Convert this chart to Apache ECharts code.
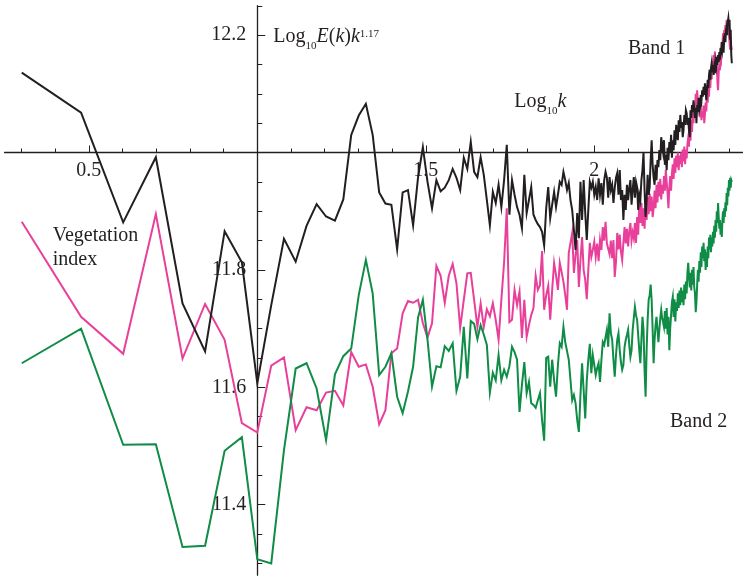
<!DOCTYPE html>
<html>
<head>
<meta charset="utf-8">
<script src="https://cdn.jsdelivr.net/npm/echarts@6/dist/echarts.min.js"></script>
<style>
  html, body { margin: 0; padding: 0; background: #ffffff; }
  #chart { width: 743px; height: 578px; }
</style>
</head>
<body>
<div id="chart"></div>
<script>
// Wavenumbers k = 2 ... 256; the abscissa is log10 k.
const kFirst = 2, kLast = 256;
const wavenumbers = [];
for (let k = kFirst; k <= kLast; k++) wavenumbers.push(k);

// log10 E(k) k^1.17 for each wavenumber (k = 2 ... 256)
const band1 = [
  12.136, 12.068, 11.881, 11.992, 11.743, 11.661, 11.866, 11.813, 11.607,
  11.740, 11.853, 11.814, 11.875, 11.912, 11.891, 11.884, 11.920, 12.030, 12.063,
  12.083, 12.030, 11.932, 11.913, 11.911, 11.835, 11.932, 11.936, 11.876, 11.958,
  12.009, 11.950, 11.905, 11.953, 11.934, 11.940, 11.953, 11.972, 11.957, 11.936,
  11.991, 11.972, 12.018, 11.967, 11.958, 11.992, 11.962, 11.919, 11.876, 11.933,
  11.914, 11.945, 11.907, 11.953, 12.013, 11.894, 11.953, 11.928, 11.907, 11.894,
  11.871, 11.962, 11.897, 11.919, 11.941, 11.894, 11.885, 11.878, 11.873, 11.865,
  11.842, 11.905, 11.941, 11.888, 11.911, 11.933, 11.907, 11.928, 11.950, 11.945,
  11.967, 11.953, 11.936, 11.948, 11.919, 11.902, 11.868, 11.834, 11.897, 11.854,
  11.950, 11.885, 11.953, 11.897, 11.851, 11.902, 11.950, 11.940, 11.950, 11.928,
  11.941, 11.919, 11.956, 11.928, 11.948, 11.911, 11.953, 11.967, 11.957, 11.923,
  11.958, 11.936, 11.945, 11.914, 11.940, 11.957, 11.965, 11.928, 11.970, 11.919,
  11.936, 11.885, 11.928, 11.902, 11.945, 11.919, 11.940, 11.953, 11.911, 11.936,
  11.958, 11.923, 11.950, 11.941, 11.902, 11.928, 11.919, 11.953, 11.970, 12.000,
  11.936, 11.890, 11.919, 11.962, 11.928, 11.941, 11.987, 12.021, 11.979, 11.957,
  11.945, 11.979, 11.953, 11.987, 11.975, 12.004, 11.987, 12.026, 12.013, 12.001,
  12.021, 11.979, 11.996, 11.970, 12.008, 11.987, 12.018, 12.000, 12.030, 11.991,
  12.021, 12.004, 12.038, 12.013, 12.047, 12.033, 12.021, 12.055, 12.035, 12.064,
  12.042, 12.052, 12.026, 12.038, 12.064, 12.047, 12.072, 12.067, 12.047, 12.059,
  12.038, 12.026, 12.072, 12.059, 12.081, 12.069, 12.089, 12.072, 12.059, 12.076,
  12.050, 12.081, 12.069, 12.093, 12.072, 12.077, 12.098, 12.089, 12.106, 12.095,
  12.112, 12.098, 12.118, 12.103, 12.089, 12.106, 12.124, 12.110, 12.132, 12.141,
  12.124, 12.144, 12.152, 12.137, 12.149, 12.132, 12.144, 12.135, 12.154, 12.147,
  12.163, 12.149, 12.166, 12.154, 12.171, 12.158, 12.178, 12.166, 12.188, 12.175,
  12.183, 12.170, 12.195, 12.203, 12.188, 12.209, 12.214, 12.200, 12.222, 12.229,
  12.217, 12.226, 12.192, 12.209, 12.166, 12.152
];

const vegetationIndex = [
  11.882, 11.720, 11.657, 11.895, 11.649, 11.742, 11.681, 11.539, 11.523,
  11.637, 11.651, 11.527, 11.566, 11.561, 11.591, 11.594, 11.569, 11.660, 11.635,
  11.639, 11.601, 11.537, 11.561, 11.658, 11.666, 11.726, 11.747, 11.744, 11.749,
  11.709, 11.685, 11.709, 11.807, 11.790, 11.744, 11.790, 11.810, 11.777, 11.701,
  11.749, 11.794, 11.795, 11.749, 11.703, 11.743, 11.703, 11.733, 11.721, 11.743,
  11.715, 11.681, 11.749, 11.813, 11.905, 11.711, 11.715, 11.766, 11.740, 11.763,
  11.684, 11.749, 11.686, 11.706, 11.723, 11.735, 11.790, 11.766, 11.774, 11.832,
  11.732, 11.757, 11.773, 11.715, 11.766, 11.812, 11.791, 11.766, 11.812, 11.796,
  11.780, 11.757, 11.732, 11.829, 11.831, 11.863, 11.795, 11.825, 11.851, 11.771,
  11.817, 11.856, 11.800, 11.783, 11.750, 11.800, 11.846, 11.822, 11.834, 11.848,
  11.822, 11.845, 11.815, 11.851, 11.834, 11.873, 11.850, 11.882, 11.845, 11.842,
  11.827, 11.850, 11.820, 11.851, 11.788, 11.814, 11.863, 11.835, 11.860, 11.831,
  11.817, 11.846, 11.873, 11.845, 11.870, 11.840, 11.865, 11.880, 11.850, 11.864,
  11.854, 11.880, 11.846, 11.890, 11.860, 11.915, 11.880, 11.914, 11.875, 11.905,
  11.870, 11.910, 11.885, 11.925, 11.895, 11.930, 11.900, 11.925, 11.890, 11.905,
  11.935, 11.905, 11.945, 11.915, 11.950, 11.925, 11.955, 11.920, 11.945, 11.930,
  11.960, 11.935, 11.970, 11.950, 11.930, 11.905, 11.940, 11.960, 11.935, 11.965,
  11.980, 11.955, 11.990, 11.965, 11.995, 11.975, 12.000, 11.970, 11.995, 11.980,
  12.000, 11.975, 12.005, 11.985, 12.010, 11.980, 12.005, 11.990, 12.015, 12.025,
  12.010, 12.040, 12.020, 12.055, 12.035, 12.070, 12.050, 12.085, 12.065, 12.100,
  12.080, 12.106, 12.085, 12.070, 12.090, 12.060, 12.075, 12.055, 12.070, 12.060,
  12.080, 12.050, 12.065, 12.085, 12.070, 12.100, 12.085, 12.110, 12.095, 12.125,
  12.110, 12.140, 12.125, 12.155, 12.140, 12.166, 12.150, 12.172, 12.155, 12.140,
  12.150, 12.120, 12.106, 12.135, 12.150, 12.140, 12.166, 12.160, 12.188, 12.180,
  12.203, 12.190, 12.209, 12.200, 12.217, 12.205, 12.226, 12.210, 12.220, 12.205,
  12.200, 12.187, 12.175, 12.190, 12.180, 12.175
];

const band2 = [
  11.641, 11.700, 11.502, 11.503, 11.328, 11.330, 11.492, 11.515, 11.307,
  11.300, 11.493, 11.632, 11.641, 11.598, 11.510, 11.622, 11.653, 11.666, 11.757,
  11.817, 11.760, 11.621, 11.635, 11.658, 11.584, 11.556, 11.593, 11.635, 11.719,
  11.749, 11.681, 11.601, 11.636, 11.634, 11.670, 11.662, 11.675, 11.594, 11.618,
  11.703, 11.615, 11.713, 11.708, 11.682, 11.706, 11.690, 11.672, 11.591, 11.625,
  11.612, 11.655, 11.612, 11.630, 11.618, 11.636, 11.669, 11.660, 11.647, 11.558,
  11.604, 11.643, 11.590, 11.609, 11.573, 11.570, 11.565, 11.578, 11.590, 11.544,
  11.509, 11.650, 11.652, 11.601, 11.647, 11.612, 11.584, 11.638, 11.675, 11.669,
  11.703, 11.677, 11.675, 11.647, 11.612, 11.578, 11.587, 11.573, 11.544, 11.524,
  11.587, 11.641, 11.595, 11.547, 11.612, 11.647, 11.674, 11.624, 11.655, 11.638,
  11.621, 11.633, 11.641, 11.609, 11.647, 11.677, 11.672, 11.669, 11.698, 11.669,
  11.726, 11.692, 11.681, 11.647, 11.618, 11.655, 11.681, 11.692, 11.663, 11.643,
  11.630, 11.638, 11.669, 11.681, 11.689, 11.698, 11.672, 11.652, 11.663, 11.698,
  11.718, 11.737, 11.723, 11.715, 11.689, 11.663, 11.641, 11.681, 11.720, 11.698,
  11.629, 11.584, 11.663, 11.715, 11.749, 11.757, 11.775, 11.749, 11.698, 11.641,
  11.681, 11.706, 11.720, 11.698, 11.677, 11.698, 11.718, 11.732, 11.718, 11.711,
  11.703, 11.730, 11.700, 11.735, 11.690, 11.720, 11.663, 11.700, 11.723, 11.745,
  11.754, 11.720, 11.750, 11.712, 11.745, 11.730, 11.760, 11.735, 11.765, 11.740,
  11.770, 11.745, 11.765, 11.740, 11.775, 11.750, 11.780, 11.760, 11.795, 11.812,
  11.790, 11.770, 11.795, 11.765, 11.800, 11.775, 11.805, 11.770, 11.760, 11.728,
  11.745, 11.775, 11.800, 11.780, 11.815, 11.795, 11.830, 11.805, 11.840, 11.820,
  11.846, 11.815, 11.835, 11.800, 11.830, 11.805, 11.840, 11.820, 11.855, 11.835,
  11.860, 11.830, 11.855, 11.840, 11.865, 11.845, 11.875, 11.855, 11.885, 11.865,
  11.900, 11.880, 11.914, 11.890, 11.870, 11.885, 11.860, 11.880, 11.856, 11.885,
  11.900, 11.880, 11.905, 11.890, 11.915, 11.900, 11.931, 11.910, 11.940, 11.925,
  11.953, 11.935, 11.957, 11.940, 11.953, 11.950
];

// Tick labels
const xTickLabels = [0.5, 1.5, 2];
const yTickLabels = [11.4, 11.6, 11.8, 12.2];
const xMajorTicks = [0.5, 1.0, 1.5, 2.0];
const yMajorTicks = [11.4, 11.6, 11.8, 12.0, 12.2];

// Axis ranges; the axes cross at (1, 12)
const X_MIN = 0.25, X_MAX = 2.44, Y_MIN = 11.28, Y_MAX = 12.25;
const X_CROSS = 1, Y_CROSS = 12;

const INK = '#231f20';
const PINK = '#e8409a';
const GREEN = '#0f8c45';
const SERIF = '"Liberation Serif", "Times New Roman", serif';

const GRID = { left: 4.55, top: 5.75, width: 738, height: 569.4 };
const xAxisShift = -GRID.height * (Y_CROSS - Y_MIN) / (Y_MAX - Y_MIN);
const yAxisShift = -GRID.width * (X_CROSS - X_MIN) / (X_MAX - X_MIN);

const xMinorTicks = [];
for (let i = 3; i <= 24; i++) xMinorTicks.push(i / 10);
const yMinorTicks = [];
for (let i = 226; i <= 245; i++) yMinorTicks.push(i / 20);

function xAxis(ticks, tickLen, withLine, labels) {
  return {
    type: 'value', gridIndex: 0, min: X_MIN, max: X_MAX,
    position: 'bottom', offset: xAxisShift,
    axisLine: { show: withLine, onZero: false, lineStyle: { color: INK, width: 1.3 } },
    axisTick: { show: true, inside: true, length: tickLen, customValues: ticks,
                lineStyle: { color: INK, width: 1 } },
    axisLabel: labels ? {
      show: true, customValues: labels, margin: 8,
      fontFamily: SERIF, fontSize: 20, color: INK,
      formatter: v => String(Math.round(v * 10) / 10)
    } : { show: false },
    splitLine: { show: false }
  };
}
function yAxis(ticks, tickLen, withLine, labels) {
  return {
    type: 'value', gridIndex: 0, min: Y_MIN, max: Y_MAX,
    position: 'left', offset: yAxisShift,
    axisLine: { show: withLine, onZero: false, lineStyle: { color: INK, width: 1.3 } },
    axisTick: { show: true, inside: true, length: tickLen, customValues: ticks,
                lineStyle: { color: INK, width: 1 } },
    axisLabel: labels ? {
      show: true, customValues: labels, margin: 11,
      fontFamily: SERIF, fontSize: 20, color: INK,
      formatter: v => v.toFixed(1)
    } : { show: false },
    splitLine: { show: false }
  };
}

function lineSeries(name, values, color, z) {
  return {
    type: 'line', name, xAxisIndex: 0, yAxisIndex: 0,
    data: wavenumbers.map((k, i) => [Math.log10(k), values[i]]),
    symbol: 'none', showSymbol: false, z,
    lineStyle: { color, width: 2, join: 'miter' },
    emphasis: { disabled: true }, animation: false
  };
}

// Text runs with sub/superscripts laid out left to right
const measureCtx = document.createElement('canvas').getContext('2d');
function textWidth(t, size, italic) {
  measureCtx.font = (italic ? 'italic ' : '') + size + 'px ' + SERIF;
  return measureCtx.measureText(t).width;
}
function textRun(x, baseline, runs) {
  const out = [];
  let cx = x;
  runs.forEach(r => {
    const size = r.size || 20;
    out.push({
      type: 'text', silent: true,
      x: cx, y: baseline + (r.dy || 0) - 0.3375 * size,
      style: {
        text: r.t, fontFamily: SERIF, fontSize: size,
        fontStyle: r.italic ? 'italic' : 'normal',
        fill: INK, align: 'left', verticalAlign: 'middle'
      }
    });
    cx += textWidth(r.t, size, r.italic);
  });
  return out;
}

const annotations = [].concat(
  textRun(273.3, 43.3, [
    { t: 'Log' }, { t: '10', size: 11, dy: 6.5 }, { t: 'E', italic: true }, { t: '(' },
    { t: 'k', italic: true }, { t: ')' }, { t: 'k', italic: true }, { t: '1.17', size: 11, dy: -5.5 }
  ]),
  textRun(514.3, 108.3, [
    { t: 'Log' }, { t: '10', size: 11, dy: 6.5 }, { t: 'k', italic: true }
  ]),
  textRun(628, 55, [{ t: 'Band 1' }]),
  textRun(52.7, 242.7, [{ t: 'Vegetation' }]),
  textRun(52.7, 266, [{ t: 'index' }]),
  textRun(670, 428, [{ t: 'Band 2' }])
);

const chart = echarts.init(document.getElementById('chart'), null, { renderer: 'canvas' });
chart.setOption({
  animation: false,
  backgroundColor: '#ffffff',
  grid: { left: GRID.left, top: GRID.top, width: GRID.width, height: GRID.height, containLabel: false },
  xAxis: [
    xAxis(xMinorTicks, 4, true, null),
    xAxis(xMajorTicks, 7, false, xTickLabels)
  ],
  yAxis: [
    yAxis(yMinorTicks, 5, true, null),
    yAxis(yMajorTicks, 8, false, yTickLabels)
  ],
  series: [
    lineSeries('Vegetation index', vegetationIndex, PINK, 2),
    lineSeries('Band 2', band2, GREEN, 3),
    lineSeries('Band 1', band1, INK, 4)
  ],
  graphic: annotations
});
</script>
</body>
</html>
